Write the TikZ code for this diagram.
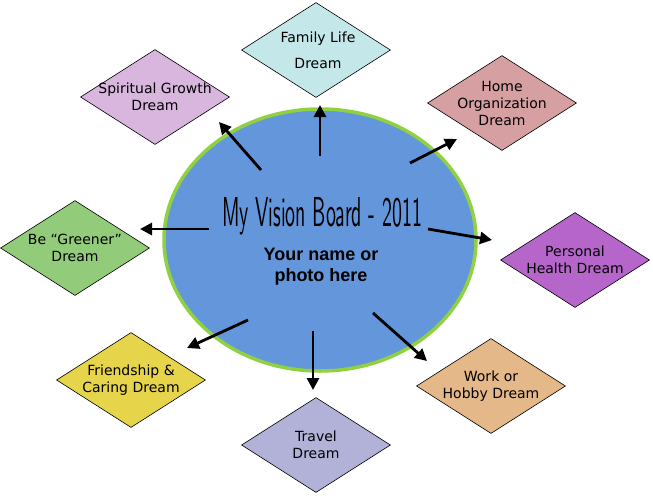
\documentclass[tikz,border=0pt]{standalone}
\usepackage{fontspec}
\setmainfont{DejaVu Sans}
\newfontfamily\boldsans{Liberation Sans}
\usetikzlibrary{shapes.geometric,arrows.meta}
\definecolor{ellblue}{HTML}{6496DC}
\definecolor{ellgreen}{HTML}{8FD140}
\definecolor{cfam}{HTML}{C4E8EA}
\definecolor{cspi}{HTML}{D8B6DE}
\definecolor{chome}{HTML}{D6A0A2}
\definecolor{cgreen}{HTML}{92CC7A}
\definecolor{chealth}{HTML}{B666CA}
\definecolor{cfriend}{HTML}{E6D44A}
\definecolor{ctravel}{HTML}{B2B2D8}
\definecolor{cwork}{HTML}{E4B888}
\begin{document}
\begin{tikzpicture}[x=1pt,y=-1pt,
  dream/.style={diamond, draw=black, line width=0.6pt, minimum width=149pt,
    minimum height=95pt, inner sep=0pt},
  dtext/.style={inner sep=0pt, align=center,
    font=\fontsize{14}{17}\selectfont, text=black},
  arr/.style={line width=2.8pt, -{Triangle[length=12pt,width=12pt]}}]
\fill[white] (0,0) rectangle (653,499);
\useasboundingbox (0,0) rectangle (653,499);

\node[ellipse, fill=ellblue, draw=ellgreen, line width=3.5pt,
  minimum width=312pt, minimum height=262pt, inner sep=0pt] (c) at (320,240) {};

\node[inner sep=0pt] (title) at (322,216)
  {\resizebox{200pt}{29pt}{\sffamily My Vision Board - 2011}};
\node[inner sep=0pt, align=center, font=\boldsans\bfseries\fontsize{18}{21}\selectfont]
  (name) at (321,267) {Your name or\\photo here};

\node[dream, fill=cfam] (fam) at (316,50) {};
\node[dream, fill=cspi] (spi) at (155,97) {};
\node[dream, fill=chome] (home) at (502,103) {};
\node[dream, fill=cgreen] (green) at (75,248) {};
\node[dream, fill=chealth] (health) at (575,260) {};
\node[dream, fill=cfriend] (friend) at (131,380) {};
\node[dream, fill=ctravel] (travel) at (316,445) {};
\node[dream, fill=cwork] (work) at (491,386) {};

\node[dtext, font=\fontsize{14}{26}\selectfont] (famT) at ([xshift=2pt]fam.center) {Family Life\\Dream};
\node[dtext] (spiT) at (spi.center) {Spiritual Growth\\Dream};
\node[dtext] (homeT) at (home.center) {Home\\Organization\\Dream};
\node[dtext] (greenT) at (green.center) {Be “Greener”\\Dream};
\node[dtext] (healthT) at (health.center) {Personal\\Health Dream};
\node[dtext] (friendT) at (friend.center) {Friendship \&\\Caring Dream};
\node[dtext] (travelT) at (travel.center) {Travel\\Dream};
\node[dtext] (workT) at (work.center) {Work or\\Hobby Dream};

\coordinate (s1) at (320,156); \coordinate (t1) at (320,105);
\coordinate (s2) at (261,170); \coordinate (t2) at (219,122);
\coordinate (s3) at (410,163); \coordinate (t3) at (457,139);
\coordinate (s4) at (209,229); \coordinate (t4) at (140,229);
\coordinate (s5) at (428,229); \coordinate (t5) at (492,240);
\coordinate (s6) at (248,320); \coordinate (t6) at (187,348);
\coordinate (s7) at (313,331); \coordinate (t7) at (313,390);
\coordinate (s8) at (373,313); \coordinate (t8) at (427,361);
\foreach \i in {1,...,8} {\draw[arr] (s\i) -- (t\i);}
\end{tikzpicture}
\end{document}
